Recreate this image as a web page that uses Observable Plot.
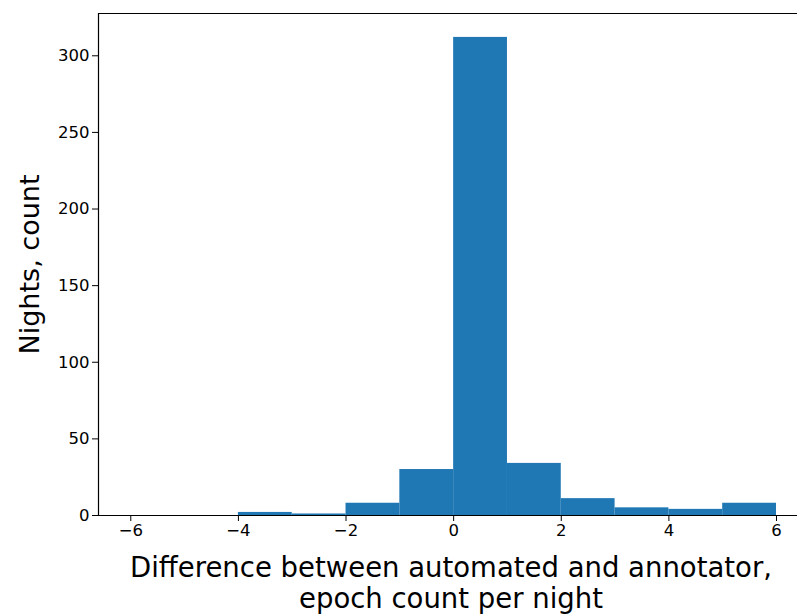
<!DOCTYPE html>
<html>
<head>
<meta charset="utf-8">
<script src="https://cdn.jsdelivr.net/npm/d3@7"></script>
<script src="https://cdn.jsdelivr.net/npm/@observablehq/plot@0.6"></script>
<style>
  body { margin: 0; background: #fff; font-family: "DejaVu Sans", sans-serif; }
  #xlabel { width: 798px; text-align: center; font-size: 27.5px; line-height: 31px; color: #000; padding-left: 104px; margin-top: 4px; box-sizing: border-box; white-space: nowrap; }
</style>
</head>
<body>
<div id="plot"></div>
<div id="xlabel">Difference between automated and annotator,<br>epoch count per night</div>
<script>
const binStarts = [-6, -5, -4, -3, -2, -1, 0, 1, 2, 3, 4, 5];
const counts = [0, 0, 2, 1, 8, 30, 312, 34, 11, 5, 4, 8];
const xTicks = [-6, -4, -2, 0, 2, 4, 6];
const yTicks = [0, 50, 100, 150, 200, 250, 300];

const bins = binStarts.map((x, i) => ({ x1: x, x2: x + 1, count: counts[i] }));

const plot = Plot.plot({
  width: 798,
  height: 548,
  marginLeft: 98,
  marginRight: 1,
  marginTop: 13,
  marginBottom: 33,
  style: { fontFamily: "DejaVu Sans, sans-serif", fontSize: "16.5px", color: "#000", background: "#fff" },
  x: { domain: [-6.6, 6.39], ticks: xTicks, tickFormat: d => String(d).replace("-", "\u2212"), tickSize: 6, label: null },
  y: { domain: [0, 327.6], ticks: yTicks, tickSize: 6, label: null },
  marks: [
    Plot.rectY(bins, { x1: "x1", x2: "x2", y: "count", fill: "#1f77b4", inset: 0 }),
    Plot.ruleX([-6.6], { stroke: "#000", strokeWidth: 1.2 }),
    Plot.ruleY([0, 327.6], { stroke: "#000", strokeWidth: 1.2 }),
    Plot.text(["Nights, count"], { frameAnchor: "left", dx: -68, rotate: -90, textAnchor: "middle", fontSize: 27, fill: "#000" })
  ]
});
document.getElementById("plot").appendChild(plot);
</script>
</body>
</html>
